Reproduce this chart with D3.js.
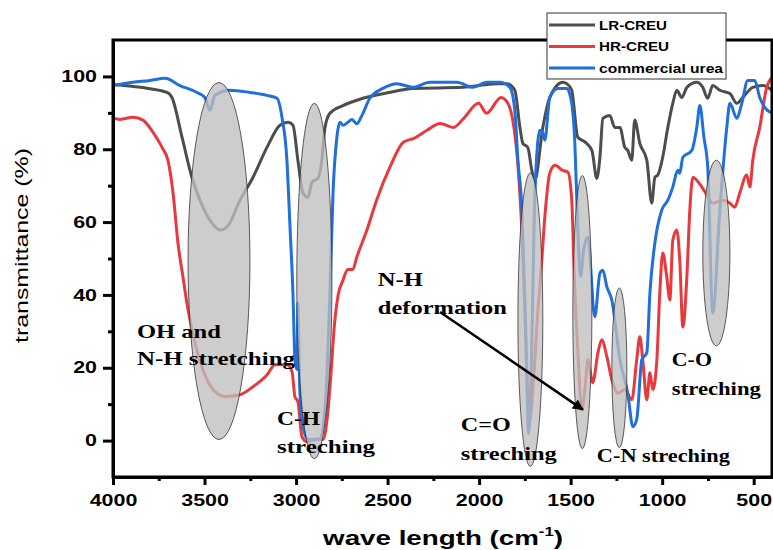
<!DOCTYPE html>
<html>
<head>
<meta charset="utf-8">
<title>FTIR spectra</title>
<script src="https://cdn.jsdelivr.net/npm/d3@7"></script>
<style>
  body { margin: 0; background: #fff; }
  svg { display: block; }
</style>
</head>
<body>
<script>
// spectra: [wavenumber cm-1, transmittance %]
var lrCreu = [
  [4000,97.8],[3850,97],[3705,95.6],[3678,94.2],[3623,83.3],[3569,72.3],[3525,66],[3459,59.7],
  [3416,57.8],[3378,58.6],[3306,66],[3235,72.3],[3159,80.5],[3088,86.6],[3044,87.4],[3017,86.6],
  [2990,77],[2962,67.9],[2935,66.8],[2913,71],[2880,72],[2859,77],[2842,86],[2815,89.9],
  [2744,92],[2635,94],[2500,95.5],[2362,96.7],[2089,97],[1900,98],[1848,98],[1805,96.2],
  [1777,86],[1761,81.6],[1734,80.5],[1712,74.2],[1695,71.5],[1652,86],[1614,94.2],[1543,98.4],
  [1521,98],[1494,96.2],[1461,83.3],[1422,82],[1384,79.7],[1357,72],[1340,77.8],[1324,88.5],
  [1286,89.3],[1259,86],[1231,86],[1204,80.5],[1188,79.7],[1166,77],[1150,88],[1122,81.6],
  [1084,77],[1057,65.2],[1040,72.3],[1024,72.9],[997,77.8],[969,86],[942,92.6],[920,96.2],
  [893,94.2],[865,97],[811,98.4],[778,97],[751,94],[724,97.5],[685,96.2],[630,95.3],
  [592,92.6],[560,94.2],[505,97],[450,97.5],[400,96.2]
];
var hrCreu = [
  [4000,88.5],[3962,88.2],[3891,88.8],[3836,88],[3782,84.7],[3732,80.5],[3700,77],[3672,68],
  [3645,54.2],[3618,45],[3590,35.9],[3552,26.8],[3509,19.5],[3454,14],[3388,12.1],[3306,12.6],
  [3235,14.8],[3159,18],[3115,20.8],[3050,20.8],[3022,18.9],[3006,12],[2990,10.7],[2968,1.1],
  [2941,-0.3],[2886,0.3],[2853,0.3],[2826,8],[2810,18],[2790,32],[2770,40],[2744,44],
  [2717,47],[2690,47],[2668,50.4],[2613,57.8],[2560,66],[2488,75],[2412,82],[2356,83],
  [2285,85.2],[2214,87.1],[2140,86],[2084,88.5],[2003,92.6],[1960,89.9],[1880,94.2],[1843,92.6],
  [1810,86],[1790,77],[1760,50],[1740,20],[1725,5],[1705,15],[1680,35],[1660,47.7],
  [1641,61.4],[1614,73.4],[1586,75.6],[1543,74.2],[1515,73.7],[1494,66],[1480,45],[1461,25],
  [1439,8.5],[1420,15],[1406,22.2],[1379,15.9],[1351,24.1],[1330,27.7],[1302,23],[1275,16.7],
  [1242,13],[1204,14],[1166,11.2],[1139,22.2],[1122,28.5],[1106,22.2],[1084,11.2],[1067,18.6],
  [1051,14],[1029,22.2],[1013,40.5],[997,51.5],[975,45],[958,38.6],[942,55],[920,57.8],
  [904,49.6],[887,31.2],[865,45],[849,63.3],[832,72.3],[811,71.5],[783,69.6],[750,67],
  [724,65.2],[669,66],[630,65.2],[603,64.1],[576,68],[538,72.9],[521,69.6],[505,77],
  [467,86],[429,97],[400,99.7]
];
var urea = [
  [4000,97.5],[3891,98.4],[3798,98.9],[3716,99.5],[3634,97.5],[3541,95.6],[3498,94.2],[3470,90.7],
  [3443,94.8],[3361,96.2],[3252,95.6],[3159,94.8],[3104,94],[3077,88.8],[3050,77],[3033,58.6],
  [3017,40.5],[3006,22.2],[2995,19.5],[2990,37.8],[2979,13],[2962,3.8],[2935,0.3],[2908,0.3],
  [2870,0.5],[2840,10],[2815,40.5],[2798,68],[2777,83.3],[2760,87.4],[2744,86.6],[2717,87.4],
  [2695,88.2],[2668,87],[2640,89.3],[2597,94],[2526,96.7],[2449,98],[2362,97],[2269,98.4],
  [2121,98.4],[2034,97],[1958,98.4],[1887,98.4],[1832,97],[1805,90.7],[1788,77],[1766,63.3],
  [1745,30],[1730,2],[1715,20],[1695,68],[1668,85.2],[1652,84.4],[1641,82.5],[1614,94.2],
  [1570,96.7],[1521,96.7],[1494,92.6],[1477,81.6],[1461,58.6],[1445,45],[1430,52],[1406,55.9],
  [1368,34],[1340,46],[1324,46.8],[1302,42.2],[1275,38.6],[1231,22.2],[1188,13],[1160,3.8],
  [1139,5.8],[1111,22.2],[1084,24.1],[1067,40.5],[1040,54.2],[1002,63.3],[969,66],[942,69.6],
  [915,74.2],[904,73.4],[887,77.8],[838,79.7],[811,86],[794,92],[772,83.3],[751,75],
  [724,35],[685,63.3],[647,86],[630,92.6],[592,88.5],[565,92.6],[532,98.9],[494,98.9],
  [467,94.2],[440,91.5],[400,89.9]
];

var seriesNames = ["LR-CREU", "HR-CREU", "commercial urea"];
var xTicks = [4000, 3500, 3000, 2500, 2000, 1500, 1000, 500];
var xMinor = [3750, 3250, 2750, 2250, 1750, 1250, 750];
var yTicks = [0, 20, 40, 60, 80, 100];
var yMinor = [10, 30, 50, 70, 90];

// shaded bands: [centre wn, centre %T, half width wn, half height %T]
var bands = [
  [3421, 49.3, 169, 49],
  [2900, 43.8, 96, 48.8],
  [1720, 33.2, 68, 40.3],
  [1436, 35.3, 52, 37.5],
  [1234, 20, 41, 21.9],
  [704, 51.5, 74, 25.5]
];
// labels: [text, wn at left edge, %T at baseline, width px]
var labels = [
  ["OH and", 3869, 28.2, 84],
  ["N-H stretching", 3869, 20.8, 158],
  ["C-H", 3104, 4.4, 43],
  ["streching", 3104, -3.3, 98],
  ["C=O", 2100, 2.5, 50],
  ["streching", 2100, -5.2, 96],
  ["C-N streching", 1357, -5.8, 133],
  ["C-O", 947, 20.5, 40],
  ["streching", 947, 12.6, 89],
  ["N-H", 2553, 42.5, 45],
  ["deformation", 2553, 34.8, 129]
];
var arrow = [[2214, 35.3], [1433, 8.5]];

var colors = ["#4d4d4d", "#e8393d", "#1f6fdc"];
var w = 773, h = 550;
var mLeft = 113, mRight = 772, mTop = 40, mBottom = 477;

var svg = d3.select("body").append("svg").attr("width", w).attr("height", h);

var x = d3.scaleLinear().domain([4000, 400]).range([mLeft, mRight]);
var y = d3.scaleLinear().domain([-10, 110]).range([mBottom, mTop]);

var line = d3.line()
  .x(function(d) { return x(d[0]); })
  .y(function(d) { return y(d[1]); })
  .curve(d3.curveMonotoneX);

var defs = svg.append("defs");
defs.append("clipPath").attr("id", "plot")
  .append("rect").attr("x", mLeft).attr("y", mTop)
  .attr("width", mRight - mLeft).attr("height", mBottom - mTop);

var plot = svg.append("g").attr("clip-path", "url(#plot)");
[lrCreu, hrCreu, urea].forEach(function(s, i) {
  plot.append("path").datum(s)
    .attr("d", line)
    .attr("fill", "none")
    .attr("stroke", colors[i])
    .attr("stroke-width", 3)
    .attr("stroke-linejoin", "round");
});

// grey ellipses laid over the curves
svg.selectAll("ellipse").data(bands).enter().append("ellipse")
  .attr("cx", function(d) { return x(d[0]); })
  .attr("cy", function(d) { return y(d[1]); })
  .attr("rx", function(d) { return Math.abs(x(d[0] + d[2]) - x(d[0])); })
  .attr("ry", function(d) { return Math.abs(y(d[1] + d[3]) - y(d[1])); })
  .attr("fill", "#bfbfbf")
  .attr("fill-opacity", 0.78)
  .attr("stroke", "#333")
  .attr("stroke-width", 0.8);

// axes
function styleAxis(g) {
  g.select(".domain").attr("stroke-width", 3);
  g.selectAll(".tick line").attr("stroke-width", 3);
  g.selectAll(".tick text")
    .attr("font-family", "Liberation Sans, Arial, sans-serif")
    .attr("font-weight", "bold")
    .attr("font-size", 16)
    .attr("fill", "#000")
    .attr("lengthAdjust", "spacingAndGlyphs")
    .attr("textLength", function() { return this.textContent.length * 11.9; });
}
var fmt = d3.format("d");
svg.append("g").attr("transform", "translate(0," + mBottom + ")")
  .call(d3.axisBottom(x).tickValues(xMinor).tickSize(4).tickSizeOuter(0).tickFormat(""))
  .call(styleAxis);
svg.append("g").attr("transform", "translate(0," + mBottom + ")")
  .call(d3.axisBottom(x).tickValues(xTicks).tickSize(8).tickSizeOuter(0).tickPadding(10).tickFormat(fmt))
  .call(styleAxis);
svg.append("g").attr("transform", "translate(" + mLeft + ",0)")
  .call(d3.axisLeft(y).tickValues(yMinor).tickSize(5).tickSizeOuter(0).tickFormat(""))
  .call(styleAxis);
svg.append("g").attr("transform", "translate(" + mLeft + ",0)")
  .call(d3.axisLeft(y).tickValues(yTicks).tickSize(10).tickSizeOuter(0).tickPadding(6).tickFormat(fmt))
  .call(styleAxis);

// frame
svg.append("rect")
  .attr("x", mLeft).attr("y", mTop)
  .attr("width", mRight - mLeft).attr("height", mBottom - mTop)
  .attr("fill", "none").attr("stroke", "#000").attr("stroke-width", 3);

// annotation labels
svg.selectAll("text.note").data(labels).enter().append("text")
  .attr("class", "note")
  .attr("x", function(d) { return x(d[1]); })
  .attr("y", function(d) { return y(d[2]); })
  .attr("font-family", "Liberation Serif, Times New Roman, serif")
  .attr("font-weight", "bold")
  .attr("font-size", 19)
  .attr("lengthAdjust", "spacingAndGlyphs")
  .attr("textLength", function(d) { return d[3]; })
  .text(function(d) { return d[0]; });

defs.append("marker")
  .attr("id", "head")
  .attr("viewBox", "0 0 10 10")
  .attr("refX", 9).attr("refY", 5)
  .attr("markerWidth", 16).attr("markerHeight", 11)
  .attr("markerUnits", "userSpaceOnUse")
  .attr("orient", "auto")
  .append("path").attr("d", "M0,0L10,5L0,10Z").attr("fill", "#000");

svg.append("line")
  .attr("x1", x(arrow[0][0])).attr("y1", y(arrow[0][1]))
  .attr("x2", x(arrow[1][0])).attr("y2", y(arrow[1][1]))
  .attr("stroke", "#000").attr("stroke-width", 2.5)
  .attr("marker-end", "url(#head)");

// axis titles
var xt = svg.append("g");
var xtext = xt.append("text")
  .attr("text-anchor", "middle")
  .attr("font-family", "Liberation Sans, Arial, sans-serif")
  .attr("font-weight", "bold")
  .attr("font-size", 20);
xtext.append("tspan").text("wave length (cm");
xtext.append("tspan").attr("font-size", 12).attr("dy", -9).text("-1");
xtext.append("tspan").attr("dy", 9).text(")");
var k = 240 / xtext.node().getComputedTextLength();
xt.attr("transform", "translate(443,545) scale(" + k + ",1)");

svg.append("text")
  .attr("transform", "translate(28,245.5) rotate(-90)")
  .attr("text-anchor", "middle")
  .attr("font-family", "Liberation Sans, Arial, sans-serif")
  .attr("font-size", 19)
  .attr("lengthAdjust", "spacingAndGlyphs")
  .attr("textLength", 195)
  .text("transmittance (%)");

// legend
var lg = svg.append("g");
lg.append("rect")
  .attr("x", 547).attr("y", 13).attr("width", 179).attr("height", 66)
  .attr("fill", "#fff").attr("stroke", "#333").attr("stroke-width", 1);
var legendW = [68, 70, 124];
seriesNames.forEach(function(name, i) {
  var cy = 25 + i * 21.5;
  lg.append("line")
    .attr("x1", 549).attr("x2", 595).attr("y1", cy).attr("y2", cy)
    .attr("stroke", colors[i]).attr("stroke-width", 3);
  lg.append("text")
    .attr("x", 599).attr("y", cy + 4.5)
    .attr("font-family", "Liberation Sans, Arial, sans-serif")
    .attr("font-weight", "bold")
    .attr("font-size", 12.5)
    .attr("lengthAdjust", "spacingAndGlyphs")
    .attr("textLength", legendW[i])
    .text(name);
});
</script>
</body>
</html>
